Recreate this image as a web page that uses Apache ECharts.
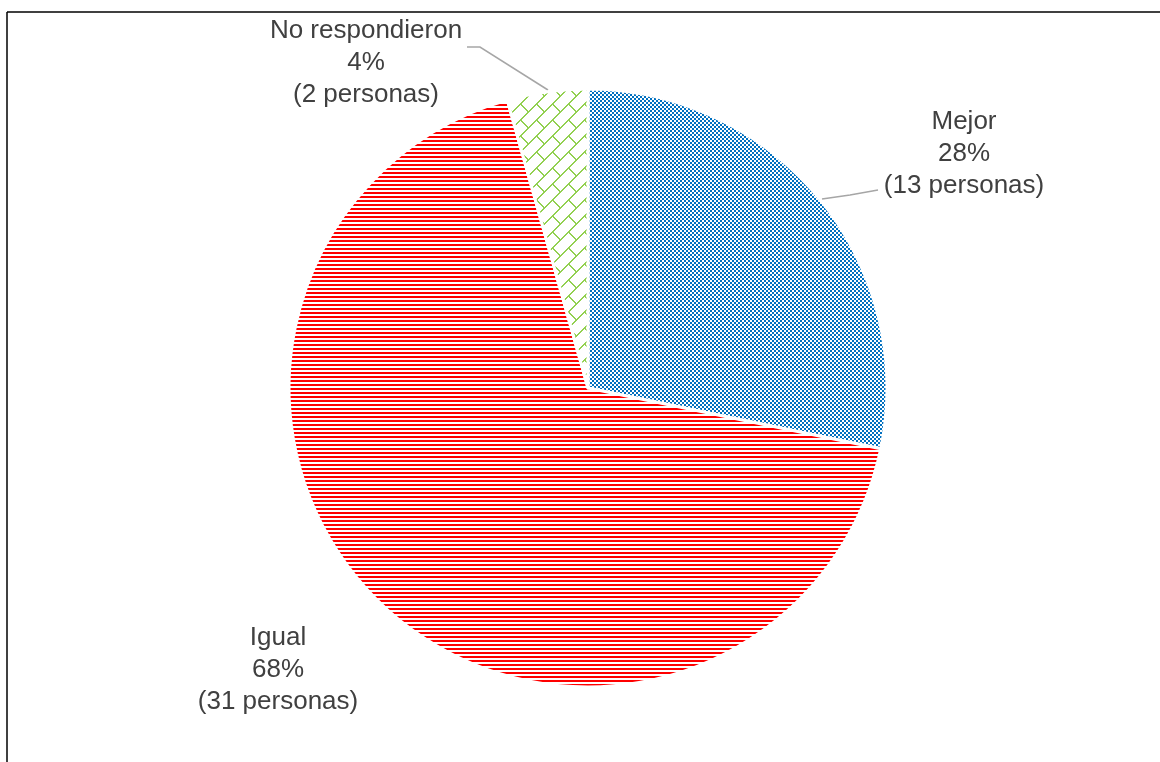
<!DOCTYPE html>
<html>
<head>
<meta charset="utf-8">
<script src="https://cdn.jsdelivr.net/npm/echarts@6/dist/echarts.min.js"></script>
<style>
  html, body { margin: 0; padding: 0; background: #fff; }
  #chart { width: 1160px; height: 762px; }
</style>
</head>
<body>
<div id="chart"></div>
<script>
// ---- Data ----
const categories = ['Mejor', 'Igual', 'No respondieron'];
const personas = [13, 31, 2];
const percentLabels = ['28%', '68%', '4%'];

// ---- Pattern fills ----
function makeTile(size, color, drawFn) {
  const c = document.createElement('canvas');
  c.width = size; c.height = size;
  const ctx = c.getContext('2d');
  ctx.fillStyle = '#ffffff';
  ctx.fillRect(0, 0, size, size);
  ctx.fillStyle = color;
  drawFn(ctx);
  return c;
}
const blueTile = makeTile(4, '#0070C0', ctx => {
  ctx.fillRect(0, 0, 2, 2);
  ctx.fillRect(2, 2, 2, 2);
});
const redTile = makeTile(4, '#FF0000', ctx => {
  ctx.fillRect(0, 0, 4, 2);
});
const greenTile = makeTile(16, '#92D050', ctx => {
  for (let i = 0; i < 16; i++) { ctx.fillRect(i, 15 - i, 1, 1); ctx.fillRect((i + 1) % 16, 15 - i, 1, 1); }
  for (let i = 0; i < 8; i++) { ctx.fillRect(8 + i, 8 + i, 1, 1); ctx.fillRect((9 + i) % 16, 8 + i, 1, 1); }
});
const fills = [blueTile, redTile, greenTile];

// label placement (annotation positions)
const labelPos = [
  { x: 964, y: 154, line: [[822, 199], [850, 195], [878, 190]] },
  { x: 278, y: 670, line: null },
  { x: 366, y: 63, line: [[548, 90], [480, 47], [467, 47]] }
];

const seriesData = categories.map((name, i) => ({
  name: name,
  value: personas[i],
  itemStyle: { color: { image: fills[i], repeat: 'repeat' } },
  labelLine: { show: !!labelPos[i].line }
}));

const chart = echarts.init(document.getElementById('chart'), null, { renderer: 'canvas' });
chart.setOption({
  backgroundColor: '#ffffff',
  animation: false,
  graphic: [
    { type: 'line', shape: { x1: 7, y1: 12, x2: 1170, y2: 12 }, style: { stroke: '#000', lineWidth: 1.5 } },
    { type: 'line', shape: { x1: 7, y1: 12, x2: 7, y2: 780 }, style: { stroke: '#000', lineWidth: 1.5 } }
  ],
  series: [{
    type: 'pie',
    center: [588, 388],
    radius: 299,
    startAngle: 90,
    clockwise: true,
    data: seriesData,
    itemStyle: { borderColor: '#ffffff', borderWidth: 3 },
    label: {
      show: true,
      position: 'outside',
      formatter: p => p.name + '\n' + percentLabels[p.dataIndex] + '\n(' + p.value + ' personas)',
      fontFamily: 'Liberation Sans, Arial, sans-serif',
      fontSize: 26,
      lineHeight: 32,
      color: '#404040',
      align: 'center'
    },
    labelLine: { show: true, lineStyle: { color: '#A6A6A6', width: 1.5 } },
    labelLayout: function (params) {
      const lp = labelPos[params.dataIndex];
      const out = { x: lp.x, y: lp.y, align: 'center', verticalAlign: 'middle' };
      if (lp.line) out.labelLinePoints = lp.line;
      return out;
    }
  }]
});
</script>
</body>
</html>
